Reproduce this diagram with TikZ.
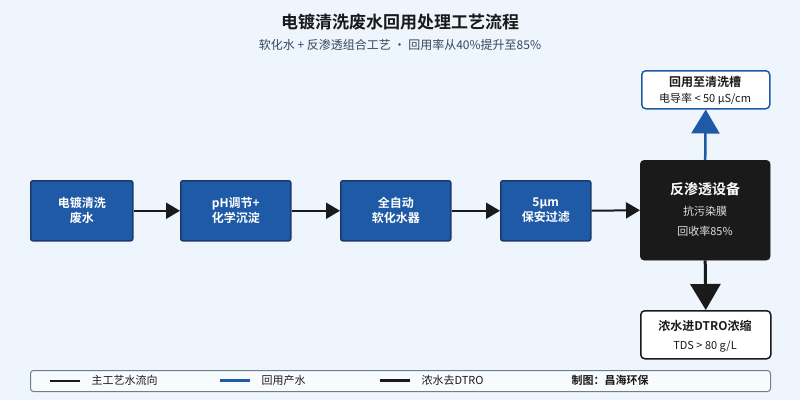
\documentclass[tikz,border=0pt]{standalone}
\usepackage{fontspec}
\setmainfont{Noto Sans CJK SC}
\newfontfamily\cjkb{Noto Sans CJK SC Bold}
\usetikzlibrary{arrows.meta}
\definecolor{bg}{HTML}{EEF5FD}
\definecolor{bfill}{HTML}{1F5AA6}
\definecolor{bline}{HTML}{1A3A6E}
\definecolor{dark}{HTML}{1A1A1A}
\definecolor{sub}{HTML}{33475B}
\begin{document}
\begin{tikzpicture}[x=1pt,y=-1pt,
  proc/.style={draw=bline,line width=1.5pt,fill=bfill,rounded corners=2pt,text=white,font=\cjkb\fontsize{12}{15}\selectfont,align=center,anchor=north west},
  outbox/.style={draw=dark,line width=1.5pt,fill=white,rounded corners=4pt,align=center},
  flow/.style={draw=dark,line width=2pt,-{Triangle[length=14pt,width=16pt]}},
  big/.style={draw=dark,line width=3pt,-{Triangle[length=26pt,width=30pt]}},
  reuse/.style={draw=bfill,line width=2.5pt,-{Triangle[length=24pt,width=28pt]}}]
\useasboundingbox (0,0) rectangle (800,400);
\fill[bg] (0,0) rectangle (800,400);
\node[font=\cjkb\fontsize{17}{20}\selectfont,text=dark] (title) at (400,22) {电镀清洗废水回用处理工艺流程};
\node[font=\fontsize{12}{14}\selectfont,text=sub] (subt) at (400,45) {软化水 + 反渗透组合工艺 · 回用率从40\%提升至85\%};
\node[proc,minimum width=102pt,minimum height=60pt] (a) at (30,180) {电镀清洗\\废水};
\node[proc,minimum width=110pt,minimum height=60pt] (b) at (180,180) {pH调节+\\化学沉淀};
\node[proc,minimum width=110pt,minimum height=60pt] (c) at (340,180) {全自动\\软化水器};
\node[proc,minimum width=90pt,minimum height=60pt] (d) at (500,180) {5μm\\保安过滤};
\node[draw=dark,fill=dark,rounded corners=4pt,minimum width=130pt,minimum height=100pt,anchor=north west] (ro) at (640,160) {};
\node[text=white,font=\cjkb\fontsize{14}{16}\selectfont] (rot) at (705,189) {反渗透设备};
\node[text=white!88!black,font=\fontsize{11}{13}\selectfont] (ro1) at (705,211) {抗污染膜};
\node[text=white!88!black,font=\fontsize{11}{13}\selectfont] (ro2) at (705,231) {回收率85\%};
\node[outbox,draw=bfill,minimum width=128pt,minimum height=38pt,anchor=north west] (top) at (641,70) {};
\node[font=\cjkb\fontsize{12}{14}\selectfont,text=dark] (top1) at (705,82) {回用至清洗槽};
\node[font=\fontsize{11}{13}\selectfont,text=dark] (top2) at (705,99) {电导率 < 50 μS/cm};
\node[outbox,minimum width=130pt,minimum height=48pt,anchor=north west] (bot) at (640,310) {};
\node[font=\cjkb\fontsize{12}{14}\selectfont,text=dark] (bot1) at (705,326) {浓水进DTRO浓缩};
\node[font=\fontsize{11}{13}\selectfont,text=dark] (bot2) at (705,346) {TDS > 80 g/L};
\draw[flow] (a.east) -- (b.west);
\draw[flow] (b.east) -- (c.west);
\draw[flow] (c.east) -- (d.west);
\draw[flow] (d.east) -- (ro.west);
\draw[reuse] (ro.north) -- (top.south);
\draw[big] (ro.south) -- (bot.north);
\node[draw=sub!70,line width=1pt,fill=white!60!bg,rounded corners=3pt,minimum width=740pt,minimum height=21pt,anchor=north west] (leg) at (30,370) {};
\coordinate (l1a) at (50,380.5); \coordinate (l1b) at (80,380.5);
\coordinate (l2a) at (220,380.5); \coordinate (l2b) at (250,380.5);
\coordinate (l3a) at (380,380.5); \coordinate (l3b) at (410,380.5);
\draw[dark,line width=2pt] (l1a) -- (l1b);
\draw[bfill,line width=2.5pt] (l2a) -- (l2b);
\draw[dark,line width=3pt] (l3a) -- (l3b);
\node[anchor=west,font=\fontsize{11}{13}\selectfont,text=dark] (t1) at (88,380.5) {主工艺水流向};
\node[anchor=west,font=\fontsize{11}{13}\selectfont,text=dark] (t2) at (258,380.5) {回用产水};
\node[anchor=west,font=\fontsize{11}{13}\selectfont,text=dark] (t3) at (418,380.5) {浓水去DTRO};
\node[anchor=west,font=\cjkb\fontsize{11}{13}\selectfont,text=dark] (t4) at (568,380.5) {制图：昌海环保};
\end{tikzpicture}
\end{document}
